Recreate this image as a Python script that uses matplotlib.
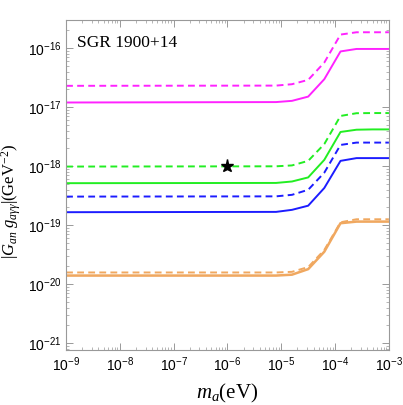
import numpy as np
import matplotlib
matplotlib.use("Agg")
import matplotlib.pyplot as plt
from matplotlib.ticker import LogLocator, FixedLocator, NullFormatter

plt.rcParams['mathtext.fontset'] = 'custom'
plt.rcParams['mathtext.rm'] = 'Liberation Serif'
plt.rcParams['mathtext.it'] = 'Liberation Serif:italic'
plt.rcParams['mathtext.sf'] = 'Liberation Sans'

# axion mass (eV)
m_a = [1e-9, 8e-6, 1.58e-5, 3.16e-5, 6.3e-5, 1.26e-4, 2.5e-4, 5e-4, 1e-3]

# coupling limits (GeV^-2)
magenta_solid = [1.2e-17, 1.22e-17, 1.28e-17, 1.51e-17, 2.98e-17, 8.8e-17, 9.7e-17, 9.7e-17, 9.7e-17]
magenta_dash = [2.3e-17, 2.32e-17, 2.45e-17, 2.9e-17, 5.7e-17, 1.7e-16, 1.86e-16, 1.86e-16, 1.86e-16]
green_solid = [5.15e-19, 5.2e-19, 5.5e-19, 6.45e-19, 1.28e-18, 3.8e-18, 4.15e-18, 4.2e-18, 4.2e-18]
green_dash = [9.85e-19, 9.95e-19, 1.03e-18, 1.23e-18, 2.37e-18, 7.1e-18, 7.9e-18, 7.95e-18, 7.95e-18]
blue_solid = [1.66e-19, 1.68e-19, 1.82e-19, 2.14e-19, 4.27e-19, 1.23e-18, 1.37e-18, 1.37e-18, 1.37e-18]
blue_dash = [3.05e-19, 3.08e-19, 3.27e-19, 3.98e-19, 7.76e-19, 2.29e-18, 2.51e-18, 2.51e-18, 2.51e-18]
orange_solid = [1.4e-20, 1.4e-20, 1.45e-20, 1.8e-20, 3.55e-20, 1.08e-19, 1.15e-19, 1.15e-19, 1.15e-19]
orange_dash = [1.58e-20, 1.58e-20, 1.62e-20, 1.95e-20, 3.8e-20, 1.12e-19, 1.26e-19, 1.26e-19, 1.26e-19]

star_x = [1e-6]
star_y = [1e-18]

xticks = [1e-9, 1e-8, 1e-7, 1e-6, 1e-5, 1e-4, 1e-3]
xtick_labels = [r'$\mathsf{10^{-9}}$', r'$\mathsf{10^{-8}}$', r'$\mathsf{10^{-7}}$', r'$\mathsf{10^{-6}}$',
                r'$\mathsf{10^{-5}}$', r'$\mathsf{10^{-4}}$', r'$\mathsf{10^{-3}}$']
yticks = [1e-21, 1e-20, 1e-19, 1e-18, 1e-17, 1e-16]
ytick_labels = [r'$\mathsf{10^{-21}}$', r'$\mathsf{10^{-20}}$', r'$\mathsf{10^{-19}}$',
                r'$\mathsf{10^{-18}}$', r'$\mathsf{10^{-17}}$', r'$\mathsf{10^{-16}}$']

fig = plt.figure(figsize=(4.03, 4.05), dpi=100)
ax = fig.add_axes([0.164, 0.136, 0.801, 0.815])

lw = 1.4
dash = (0, (3.5, 2.2))
ax.plot(m_a, magenta_dash, color='#ff22ff', lw=lw, linestyle=dash)
ax.plot(m_a, magenta_solid, color='#ff22ff', lw=lw)
ax.plot(m_a, green_dash, color='#22ee22', lw=lw, linestyle=dash)
ax.plot(m_a, green_solid, color='#22ee22', lw=lw)
ax.plot(m_a, blue_dash, color='#1c1cff', lw=lw, linestyle=dash)
ax.plot(m_a, blue_solid, color='#1c1cff', lw=lw)
ax.plot(m_a, orange_dash, color='#f0a860', lw=lw, linestyle=dash)
ax.plot(m_a, orange_solid, color='#f0a860', lw=lw * 1.3)
ax.plot(star_x, star_y, marker='*', color='black', markersize=9.5, linestyle='none')

ax.set_xscale('log')
ax.set_yscale('log')
ax.set_xlim(1e-9, 1e-3)
ax.set_ylim(10 ** -21.114, 10 ** -15.52)

ax.xaxis.set_major_locator(FixedLocator(xticks))
ax.set_xticklabels(xtick_labels)
ax.yaxis.set_major_locator(FixedLocator(yticks))
ax.set_yticklabels(ytick_labels)
ax.xaxis.set_minor_locator(LogLocator(base=10, subs=np.arange(2, 10), numticks=20))
ax.yaxis.set_minor_locator(LogLocator(base=10, subs=np.arange(2, 10), numticks=20))
ax.xaxis.set_minor_formatter(NullFormatter())
ax.yaxis.set_minor_formatter(NullFormatter())

for s in ax.spines.values():
    s.set_color('#999999')
    s.set_linewidth(0.8)
ax.tick_params(which='both', direction='in', top=True, right=True, color='#999999', labelsize=10, labelcolor='black')
ax.tick_params(which='major', length=5, width=0.7)
ax.tick_params(which='minor', length=2.5, width=0.5)
ax.tick_params(axis='x', pad=4)
ax.tick_params(axis='y', pad=3)

ax.set_xlabel(r'$m_a\mathrm{(eV)}$', fontsize=15, labelpad=6)
ax.set_ylabel(r'$|G_{an}\ g_{a\gamma\gamma}|\mathrm{(GeV^{-2})}$', fontsize=12)
ax.yaxis.set_label_coords(-0.132, 0.45)
ax.text(0.034, 0.93, 'SGR 1900+14', transform=ax.transAxes, fontsize=12.5, family='Liberation Serif',
        va='center', ha='left')

fig.savefig('out.png', dpi=100)
